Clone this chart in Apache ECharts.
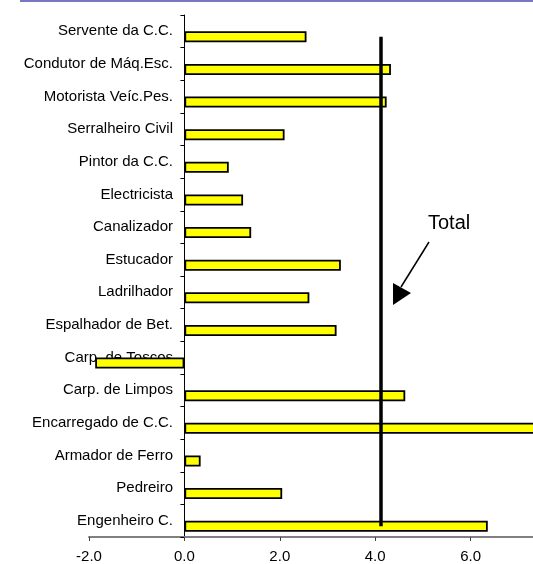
<!DOCTYPE html>
<html>
<head>
<meta charset="utf-8">
<script src="https://cdn.jsdelivr.net/npm/echarts@6/dist/echarts.min.js"></script>
<style>
html,body{margin:0;padding:0;background:#fff;}
#chart{width:533px;height:564px;}
</style>
</head>
<body>
<div id="chart"></div>
<script>
// Categories, listed top to bottom
const categories = [
  'Servente da C.C.', 'Condutor de Máq.Esc.', 'Motorista Veíc.Pes.', 'Serralheiro Civil',
  'Pintor da C.C.', 'Electricista', 'Canalizador', 'Estucador', 'Ladrilhador',
  'Espalhador de Bet.', 'Carp. de Toscos', 'Carp. de Limpos', 'Encarregado de C.C.',
  'Armador de Ferro', 'Pedreiro', 'Engenheiro C.'
];
const values = [2.56, 4.33, 4.24, 2.10, 0.93, 1.23, 1.40, 3.28, 2.62, 3.19, -1.87, 4.63, 8.5, 0.34, 2.05, 6.36];
const emptySeries = categories.map(() => null);
const totalValue = 4.11;
const xTicks = { min: -2, max: 8, interval: 2 };

const chart = echarts.init(document.getElementById('chart'), null, { renderer: 'canvas' });
const font = '"Liberation Sans", Arial, sans-serif';

chart.setOption({
  animation: false,
  backgroundColor: '#ffffff',
  grid: { left: 89, right: -33, top: 15, bottom: 27, containLabel: false, outerBoundsMode: 'none' },
  xAxis: {
    type: 'value',
    min: xTicks.min, max: xTicks.max, interval: xTicks.interval,
    axisLine: { show: true, onZero: false, lineStyle: { color: '#808080', width: 2 } },
    axisTick: { show: true, length: 4, lineStyle: { color: '#404040', width: 1 } },
    axisLabel: {
      margin: 12, fontSize: 15, color: '#000', fontFamily: font,
      showMaxLabel: false,
      formatter: v => v.toFixed(1)
    },
    splitLine: { show: false }
  },
  yAxis: {
    type: 'category',
    inverse: true,
    data: categories,
    axisLine: { show: true, onZero: true, lineStyle: { color: '#000', width: 1 } },
    axisTick: { show: true, length: 4, inside: false, lineStyle: { color: '#000', width: 1 } },
    axisLabel: { margin: -84, fontSize: 15, color: '#000', fontFamily: font },
    splitLine: { show: false }
  },
  series: [
    {
      type: 'bar', data: emptySeries, barWidth: 11, barGap: '0%', silent: true,
      itemStyle: { color: 'transparent' }
    },
    {
      type: 'bar', data: values, barWidth: 11, barGap: '0%',
      itemStyle: { color: '#FFFF00', borderColor: '#000', borderWidth: 1.8 },
      markLine: {
        silent: true, symbol: ['none', 'none'],
        label: { show: false },
        lineStyle: { color: '#000', width: 3.5, type: 'solid' },
        data: [[
          { coord: [totalValue, categories[0]] },
          { coord: [totalValue, categories[categories.length - 1]] }
        ]]
      }
    }
  ],
  graphic: [
    { type: 'line', shape: { x1: 20, y1: 1, x2: 533, y2: 1 }, style: { stroke: '#7878C0', lineWidth: 2 } },
    { type: 'text', left: 428, top: 213, style: { text: 'Total', fontSize: 20, fontFamily: font, fill: '#000' } },
    { type: 'line', shape: { x1: 429, y1: 242, x2: 401, y2: 287 }, style: { stroke: '#000', lineWidth: 1.5 } },
    { type: 'polygon', shape: { points: [[393, 283], [411, 293], [393, 305]] }, style: { fill: '#000' } }
  ]
});
</script>
</body>
</html>
